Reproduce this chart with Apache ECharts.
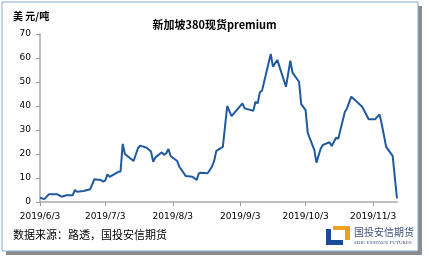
<!DOCTYPE html>
<html>
<head>
<meta charset="utf-8">
<script src="https://cdn.jsdelivr.net/npm/echarts@6/dist/echarts.min.js"></script>
<style>
html,body{margin:0;padding:0;background:#fff;}
#c{width:429px;height:260px;}
</style>
</head>
<body>
<div id="c"></div>
<script>
// Data
var dates = ['2019-06-03','2019-06-05','2019-06-07','2019-06-11','2019-06-13','2019-06-15','2019-06-18','2019-06-19','2019-06-20','2019-06-23','2019-06-26','2019-06-28',
  '2019-07-01','2019-07-02','2019-07-03','2019-07-04','2019-07-05','2019-07-09','2019-07-10','2019-07-11','2019-07-12','2019-07-16','2019-07-18','2019-07-19','2019-07-22','2019-07-24','2019-07-25','2019-07-26','2019-07-29','2019-07-30','2019-07-31',
  '2019-08-01','2019-08-02','2019-08-05','2019-08-06','2019-08-09','2019-08-12','2019-08-13','2019-08-14','2019-08-15','2019-08-16','2019-08-19','2019-08-21','2019-08-22','2019-08-23','2019-08-26','2019-08-28','2019-08-30',
  '2019-09-04','2019-09-05','2019-09-09','2019-09-10','2019-09-11','2019-09-12','2019-09-13','2019-09-17','2019-09-18','2019-09-20','2019-09-24','2019-09-26','2019-09-27','2019-09-30',
  '2019-10-01','2019-10-03','2019-10-04','2019-10-07','2019-10-08','2019-10-10','2019-10-11','2019-10-14','2019-10-15','2019-10-17','2019-10-18','2019-10-21','2019-10-22','2019-10-24','2019-10-29',
  '2019-11-01','2019-11-04','2019-11-06','2019-11-07','2019-11-09','2019-11-12','2019-11-14'];
var premium = [1.8,1.2,3.2,3.2,2.2,2.8,2.8,5.0,4.3,4.6,5.3,9.5,
  9.2,8.5,9.0,11.5,10.5,12.6,12.7,24.2,20.0,17.1,22.4,23.5,22.6,21.0,16.8,18.6,20.7,19.6,20.3,
  22.1,19.2,17.1,14.7,10.8,10.5,9.9,9.2,12.0,12.2,12.0,14.7,17.1,21.3,23.0,40.0,35.8,
  41.1,39.0,38.0,41.8,41.1,45.7,46.4,61.7,56.4,59.2,48.0,58.9,53.9,50.1,
  40.8,38.3,28.8,21.7,16.4,22.4,23.8,24.9,23.3,26.8,26.3,37.4,39.0,43.9,39.7,
  34.5,34.5,36.5,32.4,23.0,19.2,1.5];
var tickDates = ['2019-06-03','2019-07-03','2019-08-03','2019-09-03','2019-10-03','2019-11-03'];
var axisStart = '2019-06-03', axisEnd = '2019-11-14';
var yTicks = [0,10,20,30,40,50,60,70];

var DAY = 86400000;
function dayNum(s){var p=s.split('-');return Math.round(Date.UTC(+p[0],+p[1]-1,+p[2])/DAY);}
function fmt(v){var d=new Date(v*DAY);return d.getUTCFullYear()+'/'+(d.getUTCMonth()+1)+'/'+d.getUTCDate();}

var chart = echarts.init(document.getElementById('c'), null, {renderer:'canvas'});
var seriesData = dates.map(function(d,i){return [dayNum(d), premium[i]];});
var tickVals = tickDates.map(dayNum);

chart.setOption({
  animation:false,
  backgroundColor:'#fff',
  title:{text:'新加坡380现货premium', left:'center', top:14,
    textStyle:{fontFamily:'Noto Sans CJK SC', fontSize:11, fontWeight:'bold', color:'#000'}},
  grid:{left:40, right:32, top:34, bottom:58},
  xAxis:{type:'value', min:dayNum(axisStart), max:dayNum(axisEnd),
    axisLine:{lineStyle:{color:'#bfbfbf', width:2}},
    axisTick:{show:true, customValues:tickVals, length:4, lineStyle:{color:'#999'}},
    axisLabel:{customValues:tickVals, formatter:function(v){return fmt(v);}, color:'#000',
      fontFamily:'DejaVu Sans', fontSize:9, margin:10},
    splitLine:{show:false}},
  yAxis:{type:'value', min:yTicks[0], max:yTicks[yTicks.length-1], interval:10,
    axisLine:{show:true, lineStyle:{color:'#bfbfbf', width:2}},
    axisTick:{show:true, inside:false, length:4, lineStyle:{color:'#999'}},
    axisLabel:{color:'#000', fontFamily:'DejaVu Sans', fontSize:9, margin:9},
    splitLine:{show:false}},
  series:[{type:'line', data:seriesData, showSymbol:false, symbol:'none',
    lineStyle:{color:'#1f5aa0', width:2}, z:3}],
  graphic:[
    {type:'rect', shape:{x:6, y:6, width:416, height:249}, style:{fill:'#8c8c8c'}, z:-10, silent:true},
    {type:'rect', shape:{x:2, y:2, width:416, height:249}, style:{fill:'#fff', stroke:'#8aa8d0', lineWidth:1}, z:-9, silent:true},
    {type:'text', left:13, top:11, style:{text:'美 元/吨', fontFamily:'Noto Sans CJK SC', fontSize:10, fontWeight:'bold', fill:'#000'}},
    {type:'text', left:13, top:229, style:{text:'数据来源：路透，国投安信期货', fontFamily:'Noto Sans CJK SC', fontSize:11, fill:'#000'}},
    {type:'polygon', shape:{points:[[333,226],[350,226],[350,240],[345,240],[345,230],[333,230]]}, style:{fill:'#f0a020'}},
    {type:'polygon', shape:{points:[[326,229],[331,229],[331,240],[343,240],[343,245],[326,245]]}, style:{fill:'#1a4a9a'}},
    {type:'text', left:354, top:227, style:{text:'国投安信期货', fontFamily:'Noto Sans CJK SC', fontSize:10, fill:'#3d4f7a'}},
    {type:'text', left:354, top:240, style:{text:'SDIC ESSENCE FUTURES', fontFamily:'Liberation Serif', fontSize:5, fill:'#3d4f7a'}}
  ]
});
</script>
</body>
</html>
